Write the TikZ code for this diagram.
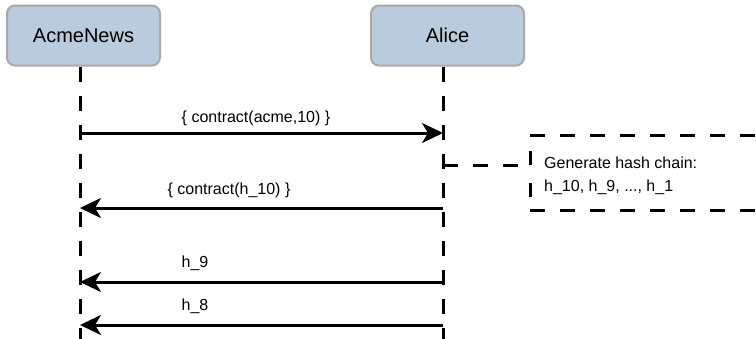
\documentclass[tikz,border=0pt]{standalone}
\usepackage{fontspec}
\setmainfont{Liberation Sans}
\usetikzlibrary{arrows.meta}
\definecolor{boxfill}{HTML}{B9CBDC}
\definecolor{boxline}{HTML}{A9A9A9}
\tikzset{
  actor/.style={draw=boxline, fill=boxfill, line width=2pt, rounded corners=8pt,
    minimum width=153pt, minimum height=60pt, inner sep=0pt,
    font=\fontsize{20}{24}\selectfont},
  lifeline/.style={line width=3pt, dash pattern=on 15pt off 14pt},
  msg/.style={line width=3pt, -{Stealth[length=21pt,width=20pt,inset=6pt]}},
  lbl/.style={font=\fontsize{16}{19}\selectfont, inner sep=0pt},
  notebox/.style={line width=3pt, dash pattern=on 15pt off 15pt}
}
\begin{document}
\begin{tikzpicture}[x=1pt,y=-1pt]
\useasboundingbox (0,0) rectangle (756,338);
\clip (0,0) rectangle (756,338);
\node[actor] (acme) at (83.5,35.5) {AcmeNews};
\node[actor] (alice) at (447.5,35.5) {Alice};
% lifeline ends
\coordinate (acmeEnd) at (80,345);
\coordinate (aliceEnd) at (443,345);
\draw[lifeline] (acme.south -| acmeEnd) -- (acmeEnd);
\draw[lifeline] (alice.south -| aliceEnd) -- (aliceEnd);
% message anchors
\coordinate (a1) at (80,133);  \coordinate (b1) at (443,133);
\coordinate (a2) at (80,208);  \coordinate (b2) at (443,208);
\coordinate (a3) at (80,282);  \coordinate (b3) at (443,282);
\coordinate (a4) at (80,325);  \coordinate (b4) at (443,325);
\draw[msg] (a1) -- (b1);
\draw[msg] (b2) -- (a2);
\draw[msg] (b3) -- (a3);
\draw[msg] (b4) -- (a4);
\node[lbl] (l1) at (256,118) {\{ contract(acme,10) \}};
\node[lbl] (l2) at (229,190) {\{ contract(h\_10) \}};
\node[lbl] (l3) at (195,263) {h\_9};
\node[lbl] (l4) at (195,306) {h\_8};
% note
\coordinate (nTL) at (530,135);
\coordinate (nBL) at (530,210);
\draw[notebox] (nTL) -- (790,135);
\draw[notebox] (nBL) -- (790,210);
\draw[notebox, dash pattern=on 14pt off 18pt] (530,151) -- (nBL);
\coordinate (noteW) at (530,165);
\coordinate (noteC) at (443,165);
\draw[notebox] (noteC) -- (noteW);
\node[lbl, anchor=west, align=left] (note) at (544,176)
  {Generate hash chain:\\[4pt] h\_10, h\_9, ..., h\_1};
\end{tikzpicture}
\end{document}
